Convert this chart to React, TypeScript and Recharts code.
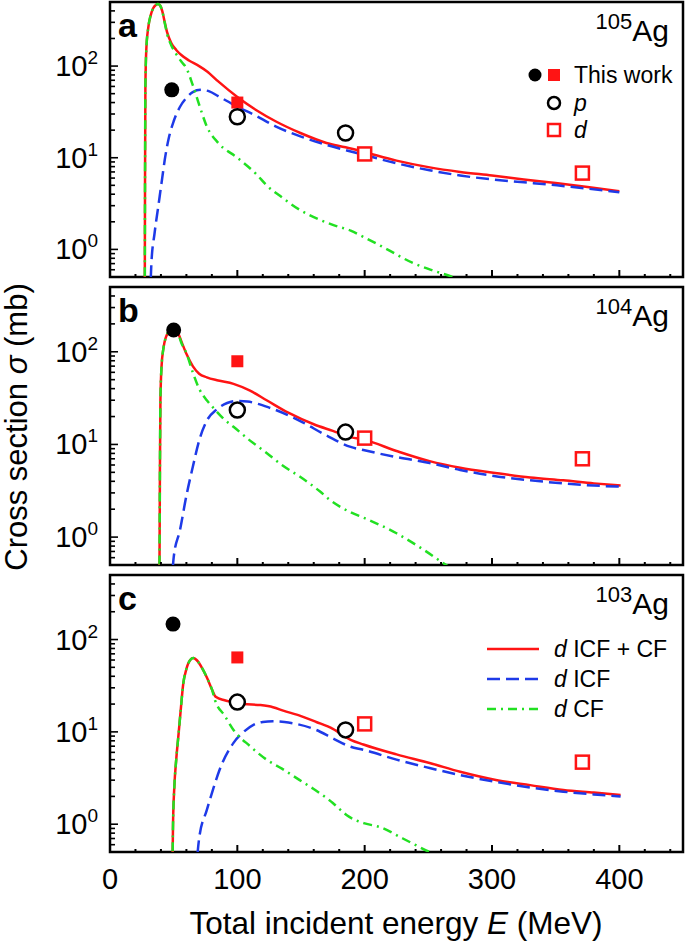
import React from 'react';
import { ComposedChart, Line, Scatter, XAxis, YAxis, ReferenceArea } from 'recharts';

const FONT = '"Liberation Sans", Arial, Helvetica, sans-serif';
const RED = '#ff1414';
const BLUE = '#1e3ae8';
const GREEN = '#22e022';

type Pt = [number, number];

// axis ticks
const xTicks = [0, 20, 40, 60, 80, 100, 120, 140, 160, 180, 200, 220, 240, 260, 280, 300, 320, 340, 360, 380, 400, 420, 440];
const xLabelTicks = [0, 100, 200, 300, 400];
const yTicks = [0.5, 0.6, 0.7, 0.8, 0.9, 1, 2, 3, 4, 5, 6, 7, 8, 9, 10, 20, 30, 40, 50, 60, 70, 80, 90, 100, 200, 300, 400, 500];
const yDecades: Record<number, string> = { 1: '0', 10: '1', 100: '2' };

// panel a : 105Ag
const aTotal: Pt[] = [[27.3, 0.3], [27.5, 5], [27.8, 60], [28.5, 150], [30, 260], [32, 360], [34, 430], [36, 465], [37.7, 475], [39.5, 455], [41, 400], [43, 300], [45, 230], [48, 180], [52, 150], [56, 132], [62, 115], [70, 100], [76, 88], [85, 68], [100, 46], [115, 33], [130, 25], [150, 18.5], [170, 14.5], [185, 13], [200, 11.5], [225, 9.3], [250, 7.9], [275, 7], [300, 6.4], [325, 5.8], [350, 5.3], [375, 4.8], [400, 4.3]];
const aICF: Pt[] = [[31.5, 0.3], [32.5, 0.7], [35, 1.5], [38, 3], [41, 6], [43, 9.5], [46, 16], [50, 25], [55, 36], [60, 45], [65, 52], [71, 55], [78, 53], [85, 47], [100, 36], [112, 30], [130, 22], [150, 17], [170, 13.8], [186, 12], [200, 10.7], [225, 8.7], [251, 7.3], [275, 6.4], [300, 5.8], [325, 5.4], [351, 5.0], [375, 4.6], [400, 4.2]];
const aCF: Pt[] = [[27.3, 0.3], [27.5, 5], [27.8, 60], [28.5, 150], [30, 260], [32, 360], [34, 430], [36, 465], [37.7, 475], [39.5, 455], [41, 400], [43, 295], [45, 220], [48, 170], [52, 135], [56, 112], [60, 95], [65, 62], [70, 38], [76, 22], [85, 14.5], [100, 10], [115, 6.6], [123, 5], [135, 3.7], [149, 2.7], [165, 2.1], [175, 1.85], [189, 1.6], [199, 1.37], [215, 1.05], [238, 0.71], [255, 0.58], [269, 0.5], [280, 0.42]];
const aThisP: Pt[] = [[48.5, 55]];
const aThisD: Pt[] = [[100, 40]];
const aP: Pt[] = [[100, 28], [185, 18.6]];
const aD: Pt[] = [[200, 11], [371, 6.8]];

// panel b : 104Ag
const bTotal: Pt[] = [[38.8, 0.3], [39.2, 5], [39.6, 30], [40.5, 70], [42, 110], [44, 145], [47, 170], [50, 180], [53, 165], [56, 130], [60, 95], [65, 70], [70, 58], [76, 53], [85, 49], [97, 45], [110, 38], [123, 30], [140, 22], [160, 16.5], [175, 14], [189, 12], [200, 11.2], [225, 8.5], [251, 6.6], [275, 5.6], [304, 4.9], [330, 4.4], [356, 4.1], [380, 3.8], [401, 3.6]];
const bICF: Pt[] = [[48.5, 0.3], [50, 0.6], [55, 1.2], [60, 2.8], [65, 5.7], [70, 11], [76, 18], [84, 24], [92, 28], [100, 29.5], [108, 29], [125, 25], [149, 18], [170, 12.5], [189, 9.4], [199, 8.7], [225, 7.3], [251, 6.3], [275, 5.3], [300, 4.6], [330, 4.1], [356, 3.8], [380, 3.6], [401, 3.5]];
const bCF: Pt[] = [[38.8, 0.3], [39.2, 5], [39.6, 30], [40.5, 70], [42, 110], [44, 145], [47, 170], [50, 180], [53, 165], [56, 125], [60, 97], [65, 60], [70, 40], [76, 30], [81, 25], [90, 18.5], [97, 15.5], [110, 11], [123, 8.1], [135, 6], [149, 4.5], [165, 3.1], [173, 2.5], [189, 1.85], [200, 1.6], [225, 1.1], [245, 0.75], [264, 0.5], [275, 0.4]];
const bThisP: Pt[] = [[50, 172]];
const bThisD: Pt[] = [[100, 79]];
const bP: Pt[] = [[100, 23.5], [185, 13.6]];
const bD: Pt[] = [[200, 11.7], [371, 7.0]];

// panel c : 103Ag
const cTotal: Pt[] = [[49, 0.3], [49.5, 1], [50.5, 2.5], [52, 5], [54, 10], [55.5, 17], [57.5, 33], [60, 48], [63, 60], [65.5, 63], [68, 60], [72, 50], [76, 39], [80, 29], [83, 24], [90, 22], [97, 21], [105, 20], [118, 19.5], [128, 18.5], [136, 17], [150, 14.8], [162, 12.8], [175, 10.8], [189, 8.2], [199, 7.3], [225, 5.7], [251, 4.6], [275, 3.7], [304, 3.0], [330, 2.65], [356, 2.35], [380, 2.2], [401, 2.07]];
const cICF: Pt[] = [[67.5, 0.3], [70, 0.7], [76, 1.42], [81, 2.4], [86, 3.86], [97, 7.6], [105, 10], [113, 12], [120, 12.8], [128, 13], [137, 12.8], [145, 12.3], [162, 10.5], [175, 8.5], [189, 6.9], [199, 6.4], [225, 5.0], [251, 4.06], [275, 3.4], [304, 2.86], [330, 2.5], [356, 2.25], [380, 2.1], [401, 2.0]];
const cCF: Pt[] = [[49, 0.3], [49.5, 1], [50.5, 2.5], [52, 5], [54, 10], [55.5, 17], [57.5, 33], [60, 48], [63, 60], [65.5, 63], [68, 60], [72, 50], [76, 39], [80, 29], [82.5, 22], [90, 15], [97, 10.5], [110, 7], [123, 5], [135, 4], [149, 3.0], [162, 2.3], [175, 1.7], [183, 1.35], [186, 1.25], [192, 1.12], [200, 1.02], [212, 0.93], [230, 0.7], [251, 0.5], [260, 0.44]];
const cThisP: Pt[] = [[49.5, 147]];
const cThisD: Pt[] = [[100, 64]];
const cP: Pt[] = [[100, 21], [185, 10.5]];
const cD: Pt[] = [[200, 12.2], [371, 4.7]];

const rows = (pts: Pt[]) => pts.map(([E, s]) => ({ E, s }));

const XTick = (props: any) => {
  const { x, y, payload, showLabel } = props;
  const v = payload.value;
  const major = xLabelTicks.includes(v);
  return (
    <g>
      <line x1={x} x2={x} y1={y} y2={y - (major ? 7 : 3)} stroke="#000" strokeWidth={2} />
      {showLabel && major && (
        <text x={x} y={y + 37} textAnchor="middle" fontSize={29} fontFamily={FONT} fill="#000">
          {v}
        </text>
      )}
    </g>
  );
};

const YTick = (props: any) => {
  const { x, y, payload } = props;
  const v = payload.value;
  const exp = yDecades[v];
  const major = exp !== undefined;
  return (
    <g>
      <line x1={x} x2={x + (major ? 8 : 5)} y1={y} y2={y} stroke="#000" strokeWidth={1.6} />
      {major && (
        <text x={x - 12} y={y + 10} textAnchor="end" fontSize={29} fontFamily={FONT} fill="#000">
          10<tspan dy={-12} fontSize={19}>{exp}</tspan>
        </text>
      )}
    </g>
  );
};

const dotFilled = (p: any) => <circle cx={p.cx} cy={p.cy} r={7.5} fill="#000" />;
const squareFilled = (p: any) => <rect x={p.cx - 6} y={p.cy - 6} width={12} height={12} fill={RED} />;
const dotOpen = (p: any) => <circle cx={p.cx} cy={p.cy} r={7.5} fill="#fff" stroke="#000" strokeWidth={2.5} />;
const squareOpen = (p: any) => <rect x={p.cx - 6.5} y={p.cy - 6.5} width={13} height={13} fill="#fff" stroke={RED} strokeWidth={2.5} />;

interface PanelProps {
  top: number;
  height: number;
  margin: { top: number; right: number; bottom: number; left: number };
  showXLabels: boolean;
  total: Pt[];
  icf: Pt[];
  cf: Pt[];
  thisP: Pt[];
  thisD: Pt[];
  p: Pt[];
  d: Pt[];
}

// axes take 1px (a 0px axis is not drawn), margins are reduced by it
function Panel({ top, height, margin, showXLabels, total, icf, cf, thisP, thisD, p, d }: PanelProps) {
  return (
    <div style={{ position: 'absolute', left: 0, top, width: 685, height }}>
      <ComposedChart width={685} height={height} margin={margin}>
        <XAxis
          type="number"
          dataKey="E"
          domain={[0, 450]}
          ticks={xTicks}
          interval={0}
          tickSize={0}
          tickMargin={0}
          height={1}
          axisLine={false}
          tickLine={false}
          tick={<XTick showLabel={showXLabels} />}
          allowDataOverflow
        />
        <YAxis
          type="number"
          dataKey="s"
          scale="log"
          domain={[0.5, 500]}
          ticks={yTicks}
          interval={0}
          tickSize={0}
          tickMargin={0}
          width={1}
          axisLine={false}
          tickLine={false}
          tick={<YTick />}
          allowDataOverflow
        />
        <ReferenceArea x1={0} x2={450} y1={0.5} y2={500} fill="none" stroke="#000" strokeWidth={2.5} ifOverflow="visible" />
        <Line data={rows(total)} dataKey="s" type="monotone" stroke={RED} strokeWidth={2.5} dot={false} isAnimationActive={false} />
        <Line data={rows(icf)} dataKey="s" type="monotone" stroke={BLUE} strokeWidth={2.5} strokeDasharray="13 6" dot={false} isAnimationActive={false} />
        <Line data={rows(cf)} dataKey="s" type="monotone" stroke={GREEN} strokeWidth={2.5} strokeDasharray="9 5 2 5" dot={false} isAnimationActive={false} />
        <Scatter data={rows(thisD)} dataKey="s" shape={squareFilled} isAnimationActive={false} />
        <Scatter data={rows(p)} dataKey="s" shape={dotOpen} isAnimationActive={false} />
        <Scatter data={rows(d)} dataKey="s" shape={squareOpen} isAnimationActive={false} />
        <Scatter data={rows(thisP)} dataKey="s" shape={dotFilled} isAnimationActive={false} />
      </ComposedChart>
    </div>
  );
}

function Isotope({ y, mass }: { y: number; mass: string }) {
  return (
    <text x={669} y={y} textAnchor="end" fontSize={30} fontFamily={FONT} fill="#000">
      <tspan fontSize={22} dy={-12}>{mass}</tspan>
      <tspan dy={12}>Ag</tspan>
    </text>
  );
}

export default function App() {
  return (
    <div style={{ position: 'absolute', left: 0, top: 0, width: 685, height: 943, background: '#fff', fontFamily: FONT }}>
      <Panel top={0} height={282} margin={{ top: 2, right: 2, bottom: 4, left: 109 }} showXLabels={false}
        total={aTotal} icf={aICF} cf={aCF} thisP={aThisP} thisD={aThisD} p={aP} d={aD} />
      <Panel top={282} height={288} margin={{ top: 5, right: 2, bottom: 4, left: 109 }} showXLabels={false}
        total={bTotal} icf={bICF} cf={bCF} thisP={bThisP} thisD={bThisD} p={bP} d={bD} />
      <Panel top={570} height={373} margin={{ top: 5, right: 2, bottom: 90, left: 109 }} showXLabels={true}
        total={cTotal} icf={cICF} cf={cCF} thisP={cThisP} thisD={cThisD} p={cP} d={cD} />

      <svg width={685} height={943} style={{ position: 'absolute', left: 0, top: 0, pointerEvents: 'none' }}>
        {/* panel letters */}
        <text x={118} y={37} fontSize={34} fontWeight="bold" fontFamily={FONT}>a</text>
        <text x={118} y={322} fontSize={34} fontWeight="bold" fontFamily={FONT}>b</text>
        <text x={118} y={610} fontSize={34} fontWeight="bold" fontFamily={FONT}>c</text>

        <Isotope y={41} mass="105" />
        <Isotope y={326} mass="104" />
        <Isotope y={614} mass="103" />

        {/* legend of measured points */}
        <circle cx={535} cy={75} r={6.5} fill="#000" />
        <rect x={548} y={69} width={12} height={12} fill={RED} />
        <text x={574} y={83} fontSize={23} fontFamily={FONT}>This work</text>
        <circle cx={554} cy={103} r={6} fill="#fff" stroke="#000" strokeWidth={2.5} />
        <text x={574} y={111} fontSize={23} fontFamily={FONT} fontStyle="italic">p</text>
        <rect x={548} y={124} width={12} height={12} fill="#fff" stroke={RED} strokeWidth={2.5} />
        <text x={574} y={138} fontSize={23} fontFamily={FONT} fontStyle="italic">d</text>

        {/* legend of calculations */}
        <line x1={487} x2={539} y1={649} y2={649} stroke={RED} strokeWidth={2.5} />
        <text x={554} y={657} fontSize={23} fontFamily={FONT}><tspan fontStyle="italic">d</tspan> ICF + CF</text>
        <line x1={487} x2={539} y1={679} y2={679} stroke={BLUE} strokeWidth={2.5} strokeDasharray="13 6" />
        <text x={554} y={687} fontSize={23} fontFamily={FONT}><tspan fontStyle="italic">d</tspan> ICF</text>
        <line x1={487} x2={539} y1={709} y2={709} stroke={GREEN} strokeWidth={2.5} strokeDasharray="9 5 2 5" />
        <text x={554} y={717} fontSize={23} fontFamily={FONT}><tspan fontStyle="italic">d</tspan> CF</text>

        {/* axis titles */}
        <text x={396} y={934} textAnchor="middle" fontSize={31.5} fontFamily={FONT}>
          Total incident energy <tspan fontStyle="italic">E</tspan> (MeV)
        </text>
        <text x={0} y={0} transform="translate(27 427) rotate(-90)" textAnchor="middle" fontSize={31} fontFamily={FONT}>
          Cross section <tspan fontStyle="italic">σ</tspan> (mb)
        </text>
      </svg>
    </div>
  );
}
